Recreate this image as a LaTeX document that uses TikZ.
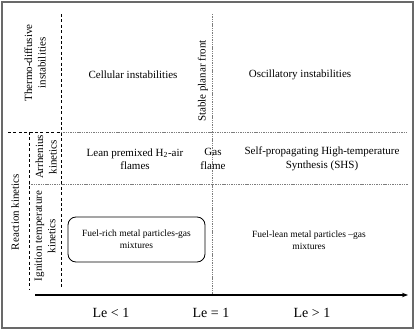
\documentclass[tikz,border=0pt]{standalone}
\usepackage{fontspec}
\setmainfont{Liberation Serif}
\usetikzlibrary{arrows.meta,positioning}
\definecolor{framegray}{RGB}{105,105,105}
\definecolor{gridgray}{RGB}{125,125,125}

\tikzset{
  regionline/.style={black,line width=0.9pt,dash pattern=on 3pt off 2.4pt},
  borderline/.style={gridgray,line width=0.6pt,dash pattern=on 1.4pt off 0.9pt},
  celltext/.style={font=\fontsize{11}{13.5}\selectfont,align=center,inner sep=1pt},
  smalltext/.style={font=\fontsize{9.5}{12}\selectfont,align=center,inner sep=1pt},
  sidetext/.style={celltext,rotate=90},
  lelabel/.style={font=\fontsize{14}{16}\selectfont,inner sep=1pt}
}

\begin{document}
\begin{tikzpicture}[x=1pt,y=-1pt]
  \useasboundingbox (0,0) rectangle (416,332);
  \draw[framegray,line width=1.2pt] (2,2) rectangle (413,328);

  % corner points of the regions
  \coordinate (topv) at (61,14);
  \coordinate (botv) at (61,289);
  \coordinate (leftk) at (8,132);
  \coordinate (midk) at (29,132);
  \coordinate (botk) at (29,289);
  \coordinate (rowa) at (408,132);
  \coordinate (rowbl) at (29,184);
  \coordinate (rowbr) at (408,184);
  \coordinate (lonet) at (212,14);
  \coordinate (loneb) at (212,295);
  \coordinate (axl) at (35,295);
  \coordinate (axr) at (408,295);

  \draw[regionline] (topv) -- (botv);
  \draw[regionline] (leftk) -- (topv |- leftk);
  \draw[regionline] (midk) -- (botk);
  \draw[borderline] (topv |- rowa) -- (rowa);
  \draw[borderline] (rowbl) -- (rowbr);
  \draw[borderline] (lonet) -- (loneb);
  \draw[-{Stealth[length=6pt,width=4.5pt]},line width=1.5pt] (axl) -- (axr);

  % row titles
  \node[sidetext] (thermo) at (35,63) {Thermo-diffusive\\instabilities};
  \node[sidetext] (arrh) at (46,157) {Arrhenius\\kinetics};
  \node[sidetext] (react) at (15,212) {Reaction kinetics};
  \node[sidetext] (ignit) at (45,236) {Ignition temperature\\kinetics};

  % cells
  \node[celltext] (cell) at (133,75) {Cellular instabilities};
  \node[sidetext] (stable) at (203,81) {Stable planar front};
  \node[celltext] (osc) at (300,75) {Oscillatory instabilities};
  \node[celltext] (lean) at (135,159) {Lean premixed H\textsubscript{2}-air\\flames};
  \node[celltext] (gas) at (213,159) {Gas\\flame};
  \node[celltext] (shs) at (322,159) {Self-propagating High-temperature\\Synthesis (SHS)};
  \node[smalltext,draw,rounded corners=8pt,line width=0.8pt,minimum width=137pt,minimum height=45pt] (rich) at (136.5,239.5) {Fuel-rich metal particles-gas\\mixtures};
  \node[smalltext] (poor) at (309,240) {Fuel-lean metal particles --gas\\mixtures};

  % Lewis number axis labels
  \node[lelabel] (leless) at (111,313) {Le < 1};
  \node[lelabel] (leone) at (211,313) {Le = 1};
  \node[lelabel] (lemore) at (312,313) {Le > 1};
\end{tikzpicture}
\end{document}
